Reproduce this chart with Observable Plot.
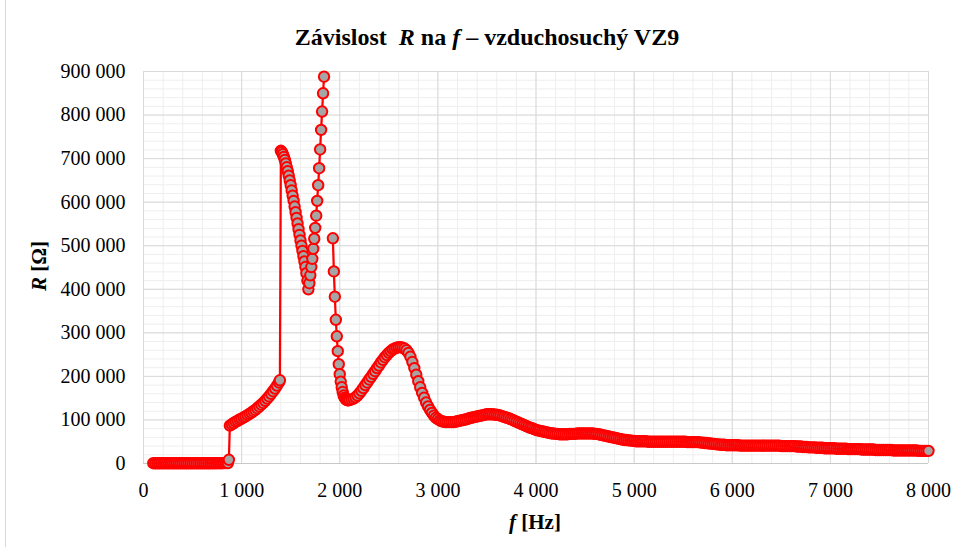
<!DOCTYPE html>
<html><head><meta charset="utf-8">
<script src="https://cdn.jsdelivr.net/npm/d3@7"></script>
<script src="https://cdn.jsdelivr.net/npm/@observablehq/plot@0.6"></script>
<style>
body{margin:0;background:#fff;}
#chart{width:960px;height:547px;}
</style></head><body><div id="chart"></div>
<script>
// Frequency sweep segments: start [Hz], step [Hz], resistance values [kΩ]
const lowStart = 100, lowStep = 20;
const lowR = [0.6,0.5,0.5,0.6,0.5,0.5,0.6,0.5,0.5,0.6, 0.5,0.5,0.6,0.5,0.5,0.6,0.5,0.5,0.6,0.5,
              0.5,0.6,0.5,0.5,0.6,0.5,0.5,0.6,0.5,0.5, 0.6,0.5,0.6,0.6,0.7,0.7,0.8,0.8,0.9];
const jumpStart = 870, jumpStep = 10;
const jumpR = [8.5];
const riseStart = 880, riseStep = 20;
const riseR = [87,90,93,96,98,101,103,106,108,111,114,117,120,123,127,131,135,139,144,149,154,160,166,172,179,186];
const peakStart = 1390, peakStep = 10;
const peakR = [191,
  718,715,710,704,697,689,680,671,661,650,639,627,615,603,590,577,564,551,538,525,512,500,488,476,464,451,437,420,400,
  414,432,451,470,493,516,541,569,603,639,678,721,766,808,850,888,935];
const gapF = 1890;
const fallStart = 1930, fallStep = 10;
const fallR = [517,441,383,330,292,258,228,205,188,175,164,156,151,148,146,145,145,146];
const tailStep = 20;
const tail1Start = 2120;
const tail1R = [147,149,152,156,161,167,173,180,186,193,199,206,212,219,225,232,238,244,249,254,
  258,262,264,266,267,267,266,264,260,254,245,233,219,204,189,175,162,151,140,131,123,116,110,105,102];
const tail2Start = 3020;
const tail2R = [99,97,96,95,95,95,95,95,96,97, 98,99,100,101,102,104,105,106,107,108,
  109,110,111,112,113,113,113,113,112,112, 111,110,108,107,105,104,102,100,98,96,
  94,92,90,88,86,84,82,81,79,77];
const tail3Start = 4020;
const tail3R = [76,75,74,73,72,71,70,69,69,68, 68,67,67,67,67,67,68,68,68,68,
  69,69,69,69,69,69,69,69,69,68, 68,67,66,65,64,63,62,61,60,59,
  58,57,56,55,54,54,53,53,52,52];
const tail4Start = 5020;
const tail4R = [51,51,51,51,51,51,50,50,50,50, 50,50,50,50,50,50,50,50,50,50,
  50,50,50,50,50,50,49,49,49,49, 49,49,49,48,48,47,47,46,46,45,
  45,44,44,43,43,43,42,42,42,42];
const tail5Start = 6020;
const tail5R = [42,42,42,41,41,41,41,41,41,41, 41,41,41,41,41,41,41,41,41,41,
  41,41,41,41,40,40,40,40,40,40, 40,40,39,39,39,38,38,38,37,37,
  37,37,36,36,36,36,35,35,35,35];
const tail6Start = 7020;
const tail6R = [35,35,34,34,34,34,34,34,33,33, 33,33,33,33,33,32,32,32,32,32,
  32,32,31,31,31,31,31,31,31,31, 31,30,30,30,30,30,30,30,30,30,
  30,30,30,30,29,29,29,29,29,29];

const xTicks = [0,1000,2000,3000,4000,5000,6000,7000,8000];
const yTicks = [0,100000,200000,300000,400000,500000,600000,700000,800000,900000];

const rows = [];
function addSeg(start, step, vals){ vals.forEach((v,i)=>rows.push({f:start+i*step, R:v*1000})); }
addSeg(lowStart, lowStep, lowR);
addSeg(jumpStart, jumpStep, jumpR);
addSeg(riseStart, riseStep, riseR);
addSeg(peakStart, peakStep, peakR);
rows.push({f:gapF, R:NaN});
addSeg(fallStart, fallStep, fallR);
addSeg(tail1Start, tailStep, tail1R);
addSeg(tail2Start, tailStep, tail2R);
addSeg(tail3Start, tailStep, tail3R);
addSeg(tail4Start, tailStep, tail4R);
addSeg(tail5Start, tailStep, tail5R);
addSeg(tail6Start, tailStep, tail6R);

const fmt = d => d3.format(",")(d).replace(/,/g, " ");
const xMinor = d3.range(0, 8001, 200);
const yMinor = d3.range(0, 900001, 20000);
const FONT = '"Liberation Serif", "Times New Roman", serif';

const chart = Plot.plot({
  width:960, height:547,
  marginTop:71, marginRight:32, marginBottom:84, marginLeft:143,
  style:{fontFamily:FONT, fontSize:"20px", color:"#000", background:"#fff", overflow:"visible"},
  x:{domain:[0,8000]},
  y:{domain:[0,900000]},
  marks:[
    Plot.ruleX(xMinor, {stroke:"#eeeeee", strokeWidth:1}),
    Plot.ruleY(yMinor, {stroke:"#eeeeee", strokeWidth:1}),
    Plot.ruleX(xTicks, {stroke:"#d9d9d9", strokeWidth:1}),
    Plot.ruleY(yTicks, {stroke:"#d9d9d9", strokeWidth:1}),
    Plot.ruleY([0], {stroke:"#c8c8c8", strokeWidth:1}),
    Plot.axisX({ticks:xTicks, tickFormat:fmt, tickSize:0, tickPadding:19, label:null, fontSize:20}),
    Plot.axisY({ticks:yTicks, tickFormat:fmt, tickSize:0, tickPadding:18, label:null, fontSize:20}),
    Plot.line(rows, {x:"f", y:"R", stroke:"#ff0000", strokeWidth:2.25, clip:true}),
    Plot.dot(rows.filter(d => d.R <= 900000), {x:"f", y:"R", r:5.2, fill:"#a5a5a5", stroke:"#ff0000", strokeWidth:2})
  ]
});
document.getElementById("chart").appendChild(chart);

const svg = d3.select(chart);
svg.append("line").attr("x1",5.5).attr("x2",5.5).attr("y1",0).attr("y2",547).attr("stroke","#d9d9d9");
function richText(x, y, size, parts, rotate){
  const t = svg.append("text")
    .attr("text-anchor","middle")
    .attr("transform", rotate ? `translate(${x},${y}) rotate(-90)` : `translate(${x},${y})`)
    .attr("font-family", FONT).style("font-family", FONT)
    .style("font-size", size+"px").style("font-weight","bold")
    .style("white-space","pre").attr("fill","#000");
  parts.forEach(p => { const s = t.append("tspan").text(p[0]); if (p[1]) s.attr("font-style","italic"); });
  return t;
}
richText(487, 45, 24, [["Závislost  "],["R",1],[" na "],["f",1],[" – vzduchosuchý VZ9"]]);
richText(535, 529, 21, [["f",1],[" [Hz]"]]);
richText(46, 266, 21, [["R",1],[" [Ω]"]], true);
</script></body></html>
